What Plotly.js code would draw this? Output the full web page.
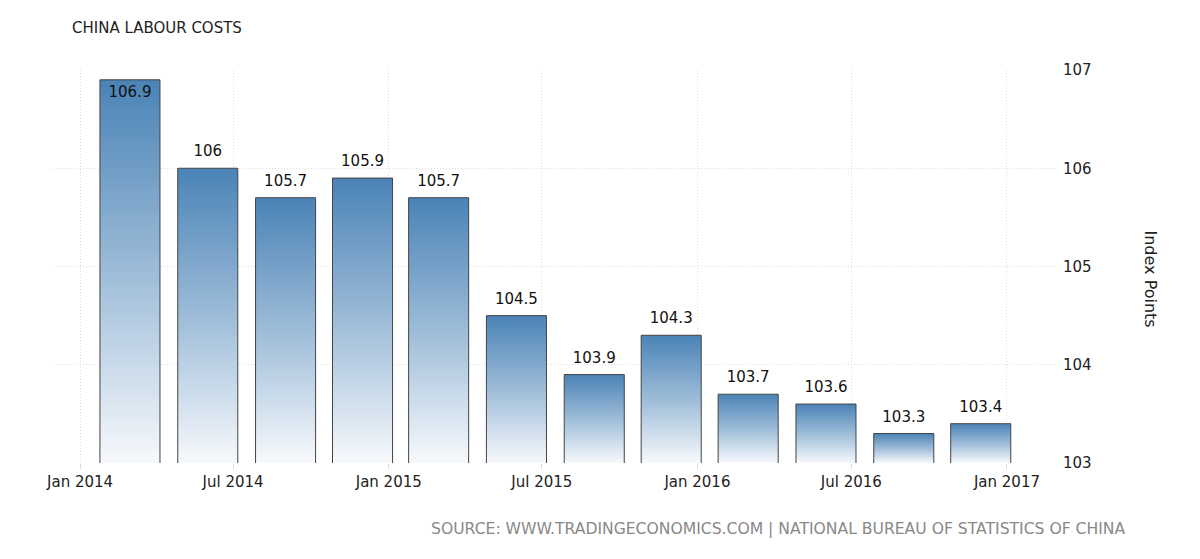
<!DOCTYPE html>
<html>
<head>
<meta charset="utf-8">
<script src="https://cdn.plot.ly/plotly-3.0.1.min.js"></script>
<style>html,body{margin:0;padding:0;background:#fff;}#chart{width:1200px;height:559px;}</style>
</head>
<body>
<div id="chart"></div>
<script>
const dates = ["2014-03-01","2014-06-01","2014-09-01","2014-12-01","2015-03-01","2015-06-01","2015-09-01","2015-12-01","2016-03-01","2016-06-01","2016-09-01","2016-12-01"];
const values = [106.9,106.0,105.7,105.9,105.7,104.5,103.9,104.3,103.7,103.6,103.3,103.4];
const labels = ["106.9","106","105.7","105.9","105.7","104.5","103.9","104.3","103.7","103.6","103.3","103.4"];
const tickDates = ["2014-01-01","2014-07-01","2015-01-01","2015-07-01","2016-01-01","2016-07-01","2017-01-01"];
const tickLabels = ["Jan 2014","Jul 2014","Jan 2015","Jul 2015","Jan 2016","Jul 2016","Jan 2017"];
const yTicks = [103,104,105,106,107];

const FONT = "DejaVu Sans, Verdana, sans-serif";
const DAY = 86400000;

const positions = values.map(v => v > 106.5 ? "inside" : "outside");

const trace = {
  type: "bar",
  x: dates,
  y: values,
  width: dates.map(() => 71 * DAY),
  text: labels,
  textposition: positions,
  insidetextanchor: "end",
  textfont: {family: FONT, size: 15, color: "#111"},
  insidetextfont: {family: FONT, size: 15, color: "#111"},
  outsidetextfont: {family: FONT, size: 15, color: "#111"},
  cliponaxis: true,
  constraintext: "none",
  marker: {color: "#4682b4", line: {color: "#444", width: 1}},
  hoverinfo: "none"
};

const layout = {
  width: 1200, height: 559,
  margin: {l: 53, r: 144, t: 70, b: 96},
  paper_bgcolor: "#fff", plot_bgcolor: "#fff",
  showlegend: false,
  title: {
    text: "CHINA LABOUR COSTS",
    font: {family: FONT, size: 15, color: "#222"},
    xref: "container", yref: "container",
    x: 72/1200, xanchor: "left",
    y: 1 - 28/559, yanchor: "middle"
  },
  xaxis: {
    type: "date",
    range: ["2013-11-30", "2017-02-28"],
    tickvals: tickDates,
    ticktext: tickLabels,
    tickfont: {family: FONT, size: 15, color: "#222"},
    ticks: "outside", ticklen: 5, tickcolor: "#ddd",
    showgrid: true, gridcolor: "#dcdcdc", griddash: "1px,2px", gridwidth: 1,
    showline: false, zeroline: false
  },
  yaxis: {
    side: "right",
    range: [103, 107],
    tickvals: yTicks,
    tickfont: {family: FONT, size: 15, color: "#222"},
    ticks: "", ticklabelstandoff: 6,
    showgrid: true, gridcolor: "#dcdcdc", griddash: "1px,2px", gridwidth: 1,
    showline: false, zeroline: false
  },
  annotations: [
    {
      text: "Index Points", textangle: 90,
      xref: "paper", yref: "paper", x: 1 + (1150 - 1056) / 1003, y: 0.5 - 12/393,
      xanchor: "center", yanchor: "middle", showarrow: false,
      font: {family: FONT, size: 16, color: "#222"}
    },
    {
      text: "SOURCE: WWW.TRADINGECONOMICS.COM | NATIONAL BUREAU OF STATISTICS OF CHINA",
      xref: "paper", yref: "paper", x: (1127 - 53) / 1003, y: -(529 - 463) / 393,
      xanchor: "right", yanchor: "middle", showarrow: false,
      font: {family: FONT, size: 15.6, color: "#888"}
    }
  ]
};

Plotly.newPlot("chart", [trace], layout, {staticPlot: true, displayModeBar: false}).then(gd => {
  const NS = "http://www.w3.org/2000/svg";
  const svg = gd.querySelector("svg.main-svg");
  let defs = svg.querySelector("defs");
  if (!defs) { defs = document.createElementNS(NS, "defs"); svg.insertBefore(defs, svg.firstChild); }
  const plotH = gd._fullLayout._size.h;
  const points = gd.querySelectorAll(".barlayer .point");
  points.forEach((pt, i) => {
    const p = pt.querySelector("path");
    const bb = p.getBBox();
    const grad = document.createElementNS(NS, "linearGradient");
    grad.setAttribute("id", "barGrad" + i);
    grad.setAttribute("gradientUnits", "userSpaceOnUse");
    grad.setAttribute("x1", "0"); grad.setAttribute("y1", String(bb.y));
    grad.setAttribute("x2", "0"); grad.setAttribute("y2", String(plotH));
    [["0%", "#4a83b6"], ["50%", "#9dbcd8"], ["100%", "#f7f9fc"]].forEach(([o, c]) => {
      const s = document.createElementNS(NS, "stop");
      s.setAttribute("offset", o); s.setAttribute("stop-color", c);
      grad.appendChild(s);
    });
    defs.appendChild(grad);
    p.style.fill = "url(#barGrad" + i + ")";
    if (positions[i] === "outside") {
      const t = pt.querySelector("text");
      if (t) {
        const g = document.createElementNS(NS, "g");
        g.setAttribute("transform", "translate(0,-5)");
        t.parentNode.insertBefore(g, t);
        g.appendChild(t);
      }
    }
  });
});
</script>
</body>
</html>
